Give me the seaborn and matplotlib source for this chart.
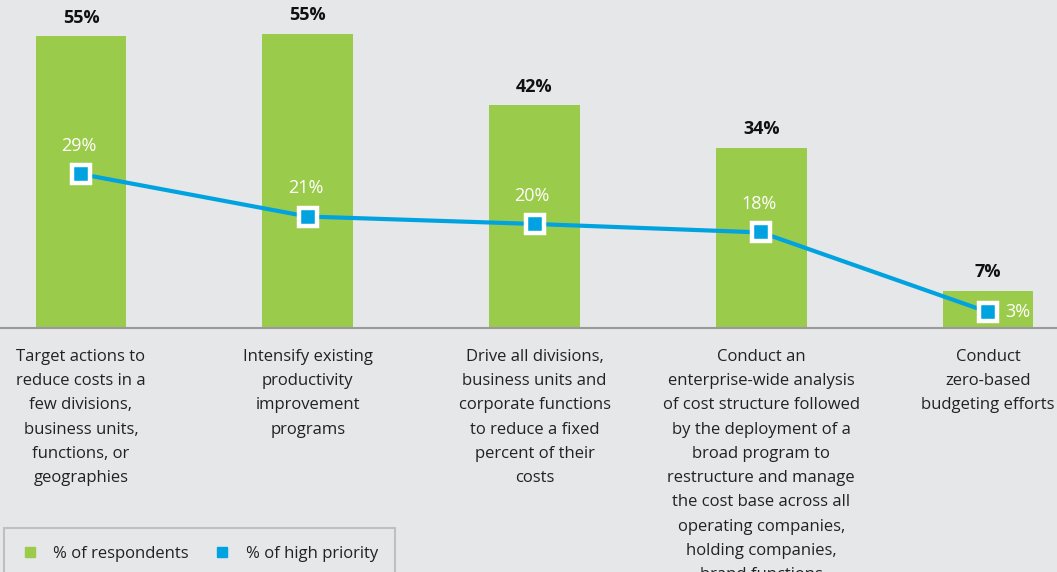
import matplotlib
matplotlib.use("Agg")
import matplotlib.pyplot as plt
import seaborn as sns
import pandas as pd
from matplotlib.lines import Line2D

categories = [
    "Target actions to\nreduce costs in a\nfew divisions,\nbusiness units,\nfunctions, or\ngeographies",
    "Intensify existing\nproductivity\nimprovement\nprograms",
    "Drive all divisions,\nbusiness units and\ncorporate functions\nto reduce a fixed\npercent of their\ncosts",
    "Conduct an\nenterprise-wide analysis\nof cost structure followed\nby the deployment of a\nbroad program to\nrestructure and manage\nthe cost base across all\noperating companies,\nholding companies,\nbrand functions",
    "Conduct\nzero-based\nbudgeting efforts",
]
respondents = [55, 55.4, 42, 34, 7]
respondent_labels = ["55%", "55%", "42%", "34%", "7%"]
high_priority = [29, 21, 19.6, 18, 3]
priority_labels = ["29%", "21%", "20%", "18%", "3%"]

BG = "#e6e7e9"
GREEN = "#9bcb4b"
BLUE = "#00a3e0"
TXT = "#222222"

sns.set_theme(style="white")
plt.rcParams["font.family"] = ["Open Sans", "DejaVu Sans"]

df = pd.DataFrame({"cat": categories, "resp": respondents, "prio": high_priority})

fig = plt.figure(figsize=(10.57, 5.72), dpi=100, facecolor=BG)
ax = fig.add_axes([0, 0.4266, 1, 0.5734])
ax.set_facecolor(BG)

sns.barplot(data=df, x="cat", y="resp", color=GREEN, width=0.4, saturation=1, ax=ax,
            zorder=2, linewidth=0, edgecolor=GREEN)
sns.pointplot(data=df, x="cat", y="prio", color=BLUE, markers="s", ax=ax,
              linewidth=3, markersize=12.5, markeredgecolor="white",
              markerfacecolor=BLUE, markeredgewidth=3.2, zorder=3)

ax.set_xlim(-0.357, 4.304)
ax.set_ylim(0, 61.8)
ax.set_xlabel("")
ax.set_ylabel("")
ax.set_yticks([])
for s in ["top", "right", "left"]:
    ax.spines[s].set_visible(False)
ax.spines["bottom"].set_color("#9a9a9a")
ax.spines["bottom"].set_linewidth(1.5)
ax.tick_params(axis="x", length=0, pad=15, labelsize=12, labelcolor=TXT)
for t in ax.get_xticklabels():
    t.set_linespacing(1.69)
    t.set_verticalalignment("top")
    t.set_clip_on(False)

for i, (v, lab) in enumerate(zip(respondents, respondent_labels)):
    ax.text(i, v + 1.8, lab, ha="center", va="bottom", fontsize=13, fontweight="bold", color="#111111")

for i, (v, lab) in enumerate(zip(high_priority, priority_labels)):
    if i == 4:
        ax.text(i + 0.075, v, lab, ha="left", va="center", fontsize=13, color="white", zorder=5)
    else:
        ax.text(i - 0.01, v + 3.6, lab, ha="center", va="bottom", fontsize=13, color="white", zorder=5)

handles = [
    Line2D([], [], marker="s", linestyle="none", color=GREEN, markersize=7),
    Line2D([], [], marker="s", linestyle="none", color=BLUE, markersize=7),
]
leg = fig.legend(handles, ["% of respondents", "% of high priority"], loc="upper left",
                 bbox_to_anchor=(0.004, 1 - 528 / 572), ncol=2, frameon=True, fontsize=12,
                 handletextpad=0.9, columnspacing=1.5, borderpad=1.05, fancybox=False,
                 handlelength=1.0, borderaxespad=0)
leg.get_frame().set_facecolor(BG)
leg.get_frame().set_edgecolor("#b5b5b5")
leg.get_frame().set_linewidth(1.5)
for t in leg.get_texts():
    t.set_color(TXT)

fig.savefig("out.png", dpi=100, facecolor=BG)
